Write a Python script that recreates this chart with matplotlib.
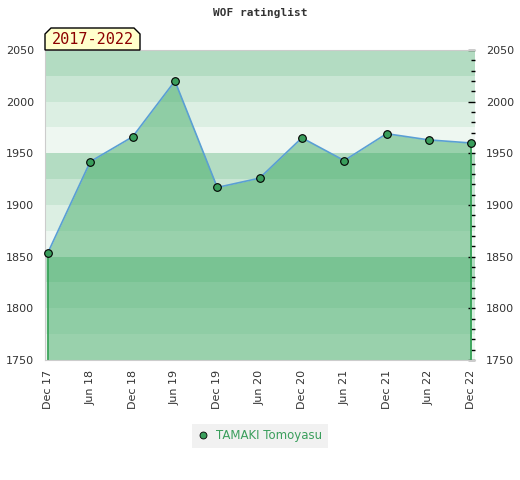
import matplotlib
matplotlib.use("Agg")
import matplotlib.pyplot as plt
from matplotlib.patches import Polygon
from matplotlib.lines import Line2D
from matplotlib.ticker import MultipleLocator

dates = ["Dec 17", "Jun 18", "Dec 18", "Jun 19", "Dec 19", "Jun 20",
         "Dec 20", "Jun 21", "Dec 21", "Jun 22", "Dec 22"]
ratings = [1854, 1942, 1966, 2020, 1917, 1926, 1965, 1943, 1969, 1963, 1960]
player = "TAMAKI Tomoyasu"
period = "2017-2022"
band_colors = ["#b3dcc2", "#c9e6d4", "#dcefe3", "#eef7f1"]

W, H = 520, 480
fig = plt.figure(figsize=(W / 100, H / 100), dpi=100)
ax = fig.add_axes([45 / W, 1 - 360 / H, 430 / W, 310 / H])

ymin, ymax = 1750, 2050
x = list(range(len(dates)))

# striped background, 25 points per band, cycle of four shades from the top
for i, top in enumerate(range(ymax, ymin, -25)):
    ax.axhspan(top - 25, top, color=band_colors[i % 4], lw=0, zorder=0)

ax.fill_between(x, ratings, ymin, color="#35a65c", alpha=0.46, lw=0, zorder=1)
ax.plot([x[0], x[0]], [ratings[0], ymin], color="#2e9e50", lw=1.2, zorder=2)
ax.plot([x[-1], x[-1]], [ratings[-1], ymin], color="#2e9e50", lw=1.2, zorder=2)
ax.plot(x, ratings, color="#5a9fd4", lw=1.2, zorder=3)
ax.plot(x, ratings, "o", ms=5.5, mfc="#3a9e5c", mec="black", mew=0.8, zorder=4,
        clip_on=False)

ax.set_xlim(-0.07, 10.09)
ax.set_ylim(ymin, ymax)
ax.set_xticks(x)
ax.set_xticklabels(dates, rotation=90, fontsize=8, color="#333333")
ax.tick_params(axis="x", length=0, pad=7)

ax.yaxis.set_major_locator(MultipleLocator(50))
ax.yaxis.set_minor_locator(MultipleLocator(10))
ax.tick_params(axis="y", which="both", left=False, right=True, labelleft=True,
               labelright=True, direction="in", labelsize=8, labelcolor="#333333")
ax.tick_params(axis="y", which="major", length=5, width=1, pad=8)
ax.tick_params(axis="y", which="minor", length=3, width=1)

for side in ["top", "left", "bottom"]:
    ax.spines[side].set_color("#cccccc")
ax.spines["right"].set_visible(False)

fig.text(0.5, 1 - 13 / H, "WOF ratinglist", ha="center", va="center",
         family="DejaVu Sans Mono", fontweight="bold", fontsize=8, color="#333333")

# period tag with cut corners
l, r, b, t, c = 45, 140, 50, 28, 6
pts = [(l, b), (l, t + c), (l + c, t), (r - c, t), (r, t + c), (r, b)]
tag = Polygon([(px / W, 1 - py / H) for px, py in pts], closed=True,
              transform=fig.transFigure, facecolor="#ffffcc", edgecolor="black",
              lw=1, zorder=5)
fig.add_artist(tag)
fig.text((l + r) / 2 / W, 1 - 40 / H, period, ha="center", va="center",
         family="DejaVu Sans Mono", fontsize=11, color="#8b0000", zorder=6)

handle = Line2D([], [], ls="none", marker="o", ms=5, mfc="#3a9e5c", mec="black", mew=0.6)
leg = fig.legend([handle], [player], loc="center", bbox_to_anchor=(260 / W, 1 - 436 / H),
                 frameon=True, facecolor="#eeeeee", edgecolor="none", fancybox=False,
                 fontsize=8.5, handlelength=1, handletextpad=0.6, borderpad=0.5)
for txt in leg.get_texts():
    txt.set_color("#3a9e5c")

fig.savefig("out.png", dpi=100)
